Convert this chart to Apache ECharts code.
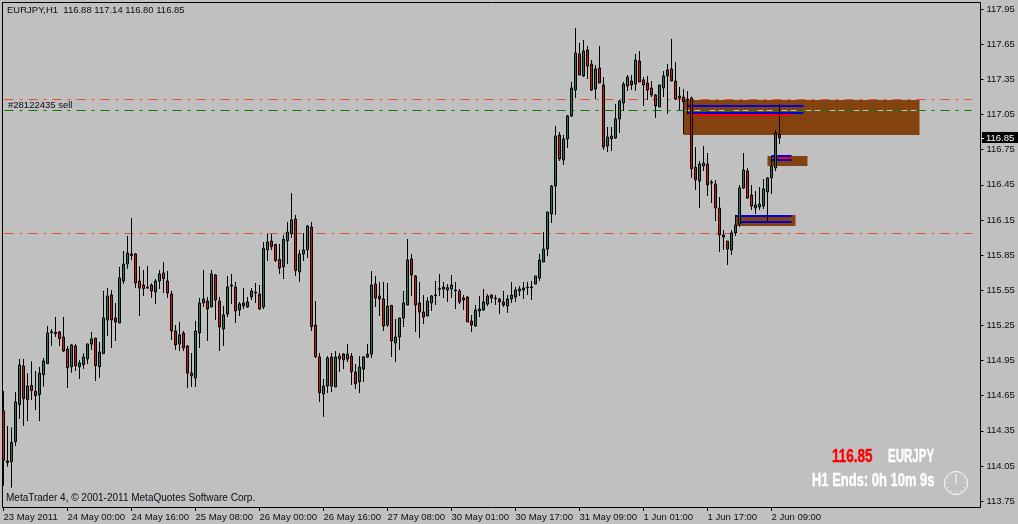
<!DOCTYPE html>
<html><head><meta charset="utf-8">
<style>html,body{margin:0;padding:0;background:#c0c0c0;overflow:hidden}#c{width:1018px;height:524px}</style>
<script src="https://cdn.jsdelivr.net/npm/echarts@6/dist/echarts.min.js"></script>
</head><body><div id="c"></div>
<script>
const opens=[114.519,114.092,114.086,114.257,114.573,114.903,114.616,114.738,114.687,114.658,114.829,114.923,115.188,115.191,115.194,115.151,115.048,114.897,115.074,114.897,114.915,114.963,115.091,115.142,114.897,115.009,115.296,115.510,115.313,115.270,115.629,115.774,115.860,115.860,115.629,115.595,115.569,115.595,115.535,115.629,115.698,115.629,115.518,115.202,115.091,115.185,115.074,114.843,114.801,115.185,115.441,115.458,115.407,115.680,115.458,115.219,115.347,115.586,115.578,115.381,115.441,115.407,115.493,115.527,115.518,
115.407,115.896,115.970,115.942,115.814,115.751,115.973,116.033,116.158,115.706,115.860,115.896,116.090,115.253,114.980,114.664,114.732,114.980,114.724,114.963,115.005,114.963,114.988,114.852,114.769,114.877,114.980,115.005,115.603,115.501,115.475,115.253,115.421,115.100,115.151,115.313,115.424,115.817,115.672,115.441,115.364,115.330,115.441,115.504,115.558,115.561,115.552,115.561,115.546,115.544,115.484,115.492,115.287,115.245,115.373,115.381,115.432,115.509,115.478,115.475,115.450,115.415,115.475,115.492,115.544,115.552,115.572,115.572,115.603,115.654,115.791,115.902,
116.201,116.440,116.876,116.662,116.842,117.038,117.260,117.568,117.380,117.602,117.482,117.269,117.448,117.303,116.782,116.842,116.850,117.013,117.149,117.294,117.337,117.311,117.508,117.346,117.320,117.277,117.217,117.115,117.277,117.380,117.440,117.337,117.192,117.200,117.183,117.192,116.600,116.483,116.611,116.628,116.466,116.457,116.252,116.022,115.970,115.894,116.039,116.116,116.423,116.568,116.363,116.252,116.261,116.269,116.389,116.509,116.594,116.88];
const highs=[114.690,114.391,114.377,114.681,114.963,114.963,114.841,114.943,114.860,114.895,114.972,115.245,115.219,115.322,115.202,115.322,115.074,115.091,115.091,114.954,115.011,115.095,115.194,115.142,115.108,115.544,115.569,115.552,115.441,115.749,115.885,116.014,116.167,115.868,115.754,115.723,115.757,115.609,115.646,115.723,115.791,115.715,115.544,115.253,115.279,115.202,115.083,115.014,115.288,115.484,115.723,115.493,115.723,115.689,115.493,115.416,115.672,115.689,115.621,115.450,115.569,115.493,115.569,115.612,115.595,
115.962,116.036,116.030,115.945,115.945,116.022,116.133,116.380,116.193,115.894,116.039,116.107,116.133,115.458,115.014,114.792,114.988,115.014,115.031,115.014,115.014,115.091,115.014,114.920,114.988,114.988,115.091,115.714,115.672,115.621,115.621,115.612,115.424,115.304,115.313,115.544,115.988,115.860,115.680,115.621,115.509,115.492,115.509,115.629,115.689,115.621,115.603,115.680,115.621,115.561,115.509,115.501,115.339,115.424,115.501,115.561,115.518,115.518,115.509,115.484,115.544,115.509,115.621,115.578,115.586,115.621,115.621,115.629,115.672,115.860,116.047,116.218,
116.449,116.953,116.902,116.876,117.047,117.329,117.790,117.662,117.687,117.636,117.516,117.474,117.636,117.371,116.944,116.944,117.141,117.175,117.329,117.388,117.388,117.568,117.593,117.371,117.380,117.337,117.226,117.303,117.422,117.482,117.696,117.499,117.286,117.269,117.251,117.203,116.773,116.654,116.782,116.722,116.491,116.491,116.346,116.064,115.970,116.064,116.193,116.449,116.722,116.594,116.449,116.397,116.432,116.500,116.517,116.696,116.918,117.14];
const lows=[113.881,114.043,113.864,114.220,114.451,114.391,114.433,114.613,114.527,114.433,114.727,114.923,115.074,115.151,115.074,115.023,114.715,114.846,114.860,114.792,114.878,114.920,115.040,114.775,114.801,115.006,115.159,115.057,115.117,115.270,115.604,115.732,115.809,115.569,115.330,115.501,115.561,115.484,115.433,115.561,115.527,115.484,115.125,115.040,115.031,115.031,114.715,114.724,114.724,115.057,115.407,115.117,115.407,115.296,115.031,115.074,115.322,115.433,115.270,115.330,115.390,115.399,115.467,115.441,115.381,
115.390,115.800,115.894,115.791,115.689,115.646,115.774,115.996,115.672,115.621,115.800,115.825,115.202,114.971,114.596,114.468,114.672,114.681,114.724,114.852,114.877,114.937,114.741,114.707,114.672,114.767,114.971,114.971,115.407,115.330,115.202,115.236,114.980,114.937,115.040,115.236,115.424,115.501,115.193,115.142,115.262,115.330,115.373,115.424,115.501,115.484,115.450,115.484,115.390,115.432,115.381,115.279,115.193,115.236,115.321,115.373,115.415,115.441,115.424,115.347,115.407,115.356,115.441,115.450,115.501,115.475,115.509,115.467,115.603,115.629,115.791,115.842,
116.124,116.193,116.654,116.620,116.765,117.030,117.192,117.388,117.371,117.354,117.252,117.183,117.320,116.748,116.731,116.739,116.842,116.893,117.081,117.252,117.260,117.252,117.329,117.124,117.175,117.200,117.021,117.115,117.200,117.055,117.337,117.175,117.089,116.884,117.055,116.509,116.406,116.252,116.568,116.355,116.295,116.141,115.877,115.894,115.766,115.851,116.013,116.090,116.415,116.329,116.235,116.201,116.235,116.244,116.141,116.372,116.568,116.80];
const closes=[114.098,114.078,114.251,114.596,114.912,114.624,114.732,114.693,114.650,114.843,114.946,115.185,115.196,115.179,115.137,115.031,114.889,115.083,114.906,114.929,114.980,115.091,115.134,114.906,115.023,115.313,115.501,115.296,115.279,115.655,115.774,115.868,115.846,115.612,115.569,115.564,115.575,115.544,115.629,115.689,115.649,115.527,115.202,115.083,115.168,115.057,114.843,114.818,115.202,115.441,115.475,115.390,115.689,115.467,115.236,115.339,115.578,115.595,115.373,115.433,115.416,115.450,115.544,115.535,115.390,
115.908,115.962,115.922,115.805,115.740,115.985,116.047,116.150,115.717,115.860,115.894,116.099,115.239,114.983,114.675,114.732,114.971,114.732,114.980,114.988,114.954,115.005,114.855,114.752,114.895,114.980,115.005,115.595,115.484,115.475,115.245,115.415,115.117,115.151,115.313,115.441,115.808,115.680,115.424,115.364,115.321,115.458,115.501,115.509,115.564,115.578,115.572,115.595,115.552,115.450,115.467,115.279,115.253,115.381,115.390,115.450,115.501,115.484,115.484,115.450,115.424,115.475,115.509,115.552,115.561,115.569,115.578,115.578,115.672,115.808,115.902,116.218,
116.440,116.867,116.671,116.842,117.038,117.277,117.576,117.388,117.593,117.465,117.260,117.440,117.320,116.773,116.859,116.867,117.013,117.166,117.311,117.371,117.303,117.516,117.329,117.303,117.260,117.217,117.124,117.303,117.380,117.431,117.337,117.183,117.209,117.158,117.175,116.588,116.494,116.628,116.637,116.449,116.474,116.252,116.022,116.005,115.902,116.039,116.107,116.423,116.577,116.338,116.269,116.278,116.286,116.415,116.509,116.611,116.893,116.85];
const tickDates=['23 May 2011','24 May 00:00','24 May 16:00','25 May 08:00','26 May 00:00','26 May 16:00','27 May 08:00','30 May 01:00','30 May 17:00','31 May 09:00','1 Jun 01:00','1 Jun 17:00','2 Jun 09:00'];
const priceTicks=[117.95,117.65,117.35,117.05,116.75,116.45,116.15,115.85,115.55,115.25,114.95,114.65,114.35,114.05,113.75];
const orderLevels=[117.18,117.087,116.038];
const orderColors=['#E2501F','#008000','#E2501F'];
// zones: [fromIndex, toIndex, topPrice, bottomPrice]
const zones=[[170,229,117.175,117.089],[170,229,117.081,116.876],[191,201,116.696,116.611],[183,198,116.193,116.099]];
// zone bars: [fromIndex, toIndex, price, colour]
const zoneBars=[[171,200,117.123,'#0000E0'],[171,200,117.066,'#0000E0'],[172,197,117.049,'#FF0000'],[192,197,116.696,'#0000E0'],[192,197,116.662,'#0000E0'],[194,197,116.682,'#FF0000'],[183,197,116.184,'#0000E0'],[184,197,116.133,'#0000E0']];

const N=245, STEP=16;
const categories=[];
for(let i=0;i<N;i++){const k=i/STEP;categories.push(Number.isInteger(k)&&k<tickDates.length?tickDates[k]:'');}
const candles=opens.map((o,i)=>[o,closes[i],lows[i],highs[i]]);
const isTick=(i,v)=>v!=='';
const uiFont='"Liberation Sans",sans-serif';
const inkColor='#0a0a14';
const clockTicks=[];
for(let h=0;h<12;h++){const a=h*Math.PI/6;clockTicks.push({type:'circle',silent:true,shape:{cx:956+9*Math.sin(a),cy:483-9*Math.cos(a),r:0.6},style:{fill:'#fff'}});}
const heavy=(text,x,y,fill,scaleX)=>({type:'text',z:50,silent:true,x,y,scaleX,style:{text,fill,stroke:fill,lineWidth:0.4,font:'bold 18px '+uiFont,verticalAlign:'middle'}});
const chart=echarts.init(document.getElementById('c'),null,{renderer:'canvas'});
chart.setOption({
 animation:false,backgroundColor:'#C0C0C0',
 grid:{left:1.5,top:2,width:980,height:505,containLabel:false},
 xAxis:{type:'category',data:categories,boundaryGap:true,
  axisLine:{show:false},
  axisTick:{show:true,interval:isTick,alignWithLabel:true,length:4,lineStyle:{color:'#000'}},
  axisLabel:{interval:isTick,align:'left',margin:5,color:inkColor,fontFamily:uiFont,fontSize:9.5,hideOverlap:false,showMinLabel:true},
  splitLine:{show:false}},
 yAxis:{type:'value',position:'right',offset:-1,min:113.699,max:118.0115,scale:true,
  axisLine:{show:false},
  axisTick:{show:true,length:3,customValues:priceTicks,lineStyle:{color:'#000'}},
  axisLabel:{show:true,customValues:priceTicks,margin:6,align:'left',color:inkColor,fontFamily:uiFont,fontSize:9.5,formatter:v=>v.toFixed(2)},
  splitLine:{show:false}},
 series:[{type:'candlestick',data:candles,barWidth:2,z:3,large:false,progressive:0,
  itemStyle:{color:'#2E7050',color0:'#CC1414',borderColor:'#000',borderColor0:'#000',borderWidth:1},
  markArea:{silent:true,z:0,itemStyle:{color:'#84420F'},
   data:zones.map(z=>[{coord:[z[0],z[2]]},{coord:[z[1],z[3]]}])},
  markLine:{silent:true,z:1,symbol:'none',label:{show:false},animation:false,
   data:[
    ...orderLevels.map((v,k)=>[{coord:[0,v],lineStyle:{color:orderColors[k],width:1,type:[9,6,3,6],dashOffset:-1}},{coord:[242,v]}]),
    ...zoneBars.map(b=>[{coord:[b[0],b[2]],lineStyle:{color:b[3],width:2,type:'solid'}},{coord:[b[1],b[2]]}])
   ]}
 }],
 graphic:[
  {type:'rect',z:50,silent:true,shape:{x:2.5,y:2.5,width:978,height:505},style:{fill:'none',stroke:'#000',lineWidth:1}},
  {type:'text',z:50,silent:true,x:7,y:10,style:{text:'EURJPY,H1  116.88 117.14 116.80 116.85',fill:inkColor,font:'9.5px '+uiFont,verticalAlign:'middle'}},
  {type:'text',z:50,silent:true,x:8,y:105,style:{text:'#28122435 sell',fill:inkColor,font:'9.5px '+uiFont,verticalAlign:'middle'}},
  {type:'text',z:50,silent:true,x:6,y:498,style:{text:'MetaTrader 4, © 2001-2011 MetaQuotes Software Corp.',fill:inkColor,font:'10px '+uiFont,verticalAlign:'middle'}},
  {type:'rect',z:50,silent:true,shape:{x:982,y:132,width:36,height:11},style:{fill:'#000'}},
  {type:'line',z:50,silent:true,shape:{x1:981,y1:138.5,x2:984,y2:138.5},style:{stroke:'#fff'}},
  {type:'text',z:51,silent:true,x:986,y:138,style:{text:'116.85',fill:'#fff',font:'9.5px '+uiFont,verticalAlign:'middle'}},
  heavy('116.85',832,457,'#FF0000',0.75),
  heavy('EURJPY',888,457,'#FFFFFF',0.64),
  heavy('H1 Ends: 0h 10m 9s',812,481,'#FFFFFF',0.72),
  {type:'circle',z:50,silent:true,shape:{cx:956,cy:483,r:11.5},style:{fill:'none',stroke:'#fff',lineWidth:1}},
  {type:'line',z:50,silent:true,shape:{x1:956,y1:484,x2:956,y2:475},style:{stroke:'#fff',lineWidth:1}},
  ...clockTicks
 ]
});
</script></body></html>
